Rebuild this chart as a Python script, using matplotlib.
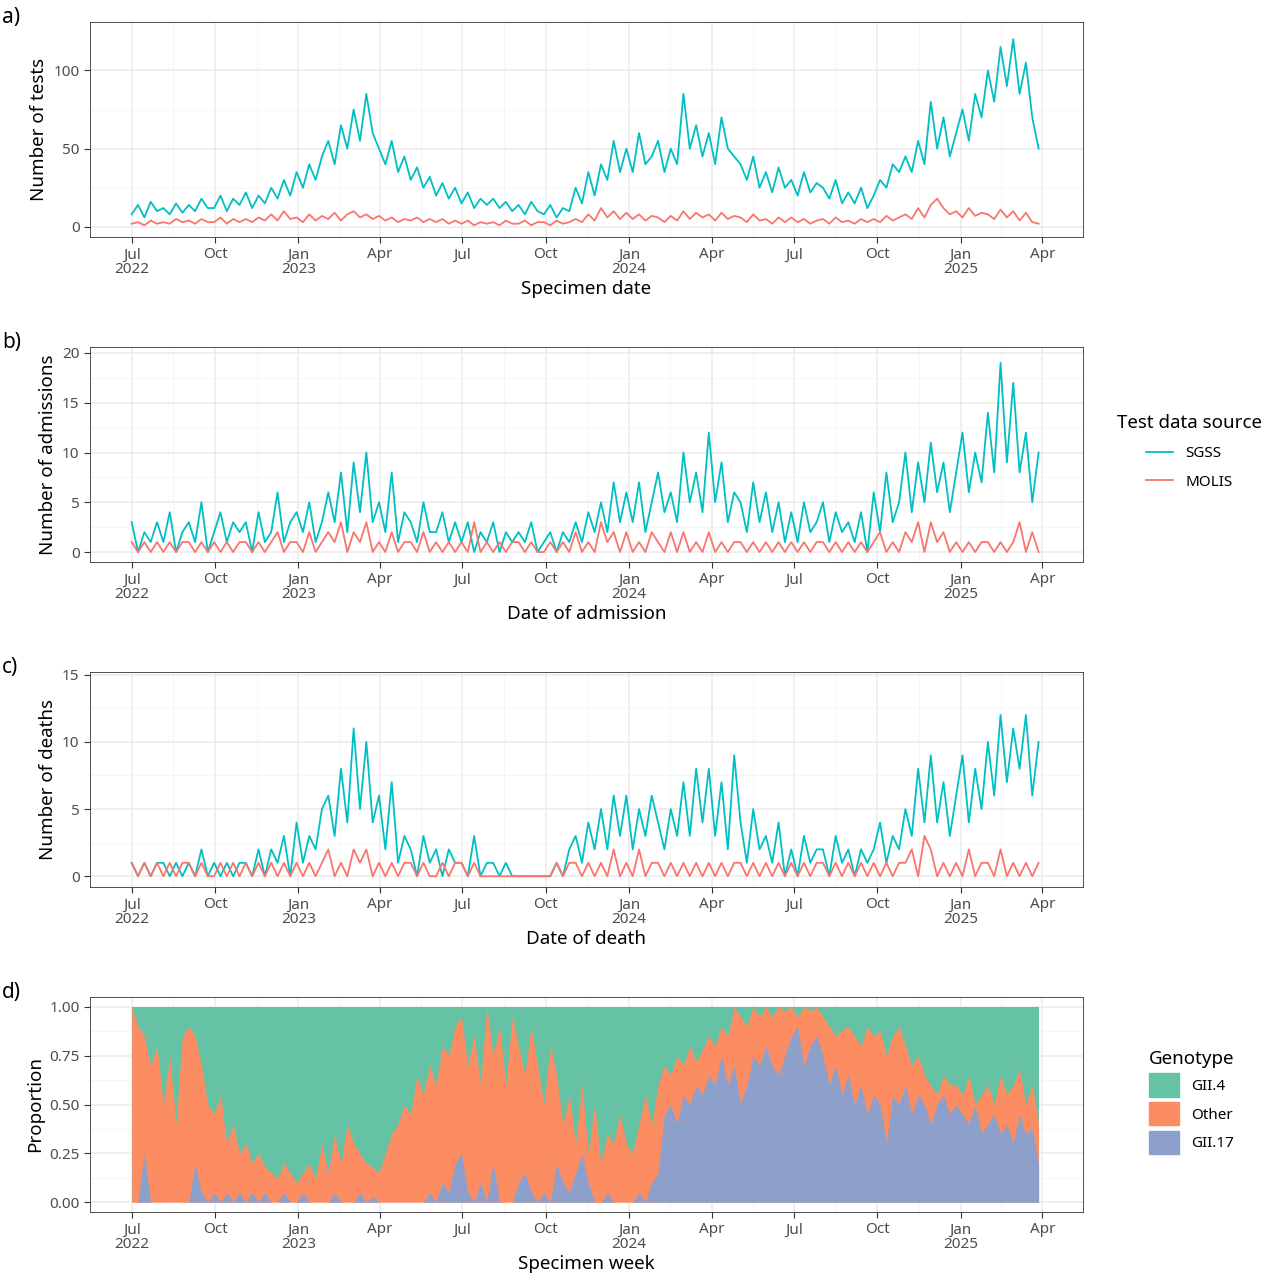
import numpy as np
import pandas as pd
import matplotlib.pyplot as plt
from matplotlib.lines import Line2D
from matplotlib.patches import Patch

plt.rcParams['font.family'] = ['Noto Sans', 'DejaVu Sans']

# weekly values, Jul 2022 - Mar 2025
tests_sgss = [8,14,6,16,10, 12,8,15,9, 14,10,18,12, 12,20,10,18,14, 22,12,20,15, 25,18,30,20,
              35,25,40,30,45, 55,40,65,50, 75,55,85,60, 50,40,55,35,45, 30,38,25,32, 20,28,18,25,
              15,22,12,18,14, 18,12,16,10, 14,8,16,10, 8,14,6,12,10, 25,15,35,20, 40,30,55,35,
              50,35,60,40,45, 55,35,50,40, 85,50,65,45, 60,40,70,50,45, 40,30,45,25, 35,22,38,25,
              30,20,35,22,28, 25,18,30,15, 22,15,25,12, 20,30,25,40,35, 45,35,55,40, 80,50,70,45,
              60,75,55,85,70, 100,80,115,90, 120,85,105,70,50]
tests_molis = [2,3,1,4,2, 3,2,5,3, 4,2,5,3, 3,6,2,5,3, 5,3,6,4, 8,4,10,5,
               6,3,8,4,7, 5,9,4,8, 10,6,8,5, 7,4,6,3,5, 4,6,3,5, 3,5,2,4,
               2,4,1,3,2, 3,1,4,2, 2,4,1,3, 3,1,4,2,3, 5,3,8,4, 12,6,10,5,
               9,5,8,4,7, 6,3,7,4, 10,5,9,6, 8,4,9,5,7, 6,3,8,4, 5,2,6,3,
               6,3,5,2,4, 5,2,6,3, 4,2,5,3, 5,3,7,4,6, 8,5,12,6, 14,18,12,8,
               10,6,12,7,9, 8,5,11,6, 10,4,9,3,2]
adm_sgss = [3,0,2,1,3, 1,4,0,2, 3,1,5,0, 2,4,1,3,2, 3,0,4,1, 2,6,1,3,
            4,2,5,1,3, 6,3,8,2, 9,4,10,3, 5,2,8,1,4, 3,1,5,2, 2,4,1,3,
            1,3,0,2,1, 3,0,2,1, 2,1,3,0, 1,2,0,2,1, 3,1,4,2, 5,2,7,3,
            6,3,7,2,5, 8,4,6,3, 10,5,8,4, 12,5,9,3,6, 5,2,7,3, 6,2,5,1,
            4,1,5,2,3, 5,1,4,2, 3,1,4,0, 6,2,8,3,5, 10,4,9,5, 11,6,9,4,
            8,12,6,10,7, 14,8,19,9, 17,8,12,5,10]
adm_molis = [1,0,1,0,1, 0,1,0,1, 1,0,1,0, 1,0,1,0,1, 1,0,1,0, 1,2,0,1,
             1,0,2,0,1, 2,1,3,0, 2,1,3,0, 1,0,2,0,1, 1,0,2,0, 1,0,1,0,
             1,0,3,0,1, 0,1,0,1, 1,0,1,0, 0,1,0,1,0, 2,0,1,0, 3,1,2,0,
             2,0,1,0,2, 1,0,2,0, 2,0,1,0, 2,0,1,0,1, 1,0,1,0, 1,0,1,0,
             1,0,1,0,1, 1,0,1,0, 1,0,1,0, 1,2,0,1,0, 2,1,3,0, 3,1,2,0,
             1,0,1,0,1, 1,0,1,0, 1,3,0,2,0]
death_sgss = [1,0,1,0,1, 1,0,1,0, 1,0,2,0, 1,0,1,0,1, 1,0,2,0, 2,1,3,0,
              4,1,3,2,5, 6,3,8,4, 11,5,10,4, 6,2,7,1,3, 2,0,3,1, 2,0,2,1,
              1,0,3,0,1, 1,0,1,0, 0,0,0,0, 0,0,1,0,2, 3,1,4,2, 5,2,6,3,
              6,2,5,3,6, 4,2,5,3, 7,3,8,4, 8,3,7,2,9, 4,1,5,2, 3,1,4,0,
              2,0,3,1,2, 2,0,3,1, 2,0,2,1, 2,4,1,3,2, 5,3,8,4, 9,4,7,3,
              6,9,4,8,5, 10,6,12,7, 11,8,12,6,10]
death_molis = [1,0,1,0,1, 0,1,0,1, 1,0,1,0, 0,1,0,1,0, 1,0,1,0, 1,0,1,0,
               1,0,1,0,1, 2,0,1,0, 2,1,2,0, 1,0,1,0,1, 1,0,1,0, 0,1,0,1,
               1,0,1,0,0, 0,0,0,0, 0,0,0,0, 0,0,1,0,1, 1,0,1,0, 1,0,2,0,
               1,0,2,0,1, 1,0,1,0, 1,0,1,0, 1,0,1,0,1, 1,0,1,0, 1,0,1,0,
               1,0,1,0,1, 1,0,1,0, 1,0,1,0, 1,0,1,0,1, 1,2,0,3, 2,0,1,0,
               1,0,2,0,1, 1,0,2,0, 1,0,1,0,1]
gii17 = [0,0,0.25,0,0, 0,0,0,0, 0,0.2,0.05,0, 0.05,0,0.05,0,0.05, 0,0.05,0,0.05, 0,0,0.05,0,
         0,0.05,0,0,0, 0,0.05,0,0, 0,0.05,0,0.03, 0,0,0,0,0, 0,0,0,0.05, 0,0.1,0.05,0.2,
         0.25,0.05,0,0.1,0, 0.2,0,0,0, 0.1,0.15,0.05,0, 0.05,0,0.2,0.1,0.05, 0.15,0.25,0.1,0, 0,0.05,0,0,
         0,0,0.05,0,0.1, 0.15,0.45,0.5,0.4, 0.55,0.5,0.6,0.55, 0.65,0.6,0.75,0.6,0.7, 0.5,0.6,0.75,0.7, 0.8,0.7,0.65,0.75,
         0.85,0.9,0.7,0.8,0.85, 0.75,0.6,0.7,0.55, 0.65,0.5,0.6,0.45, 0.55,0.5,0.3,0.55,0.5, 0.6,0.45,0.55,0.5, 0.4,0.5,0.55,0.45,
         0.5,0.45,0.4,0.5,0.35, 0.4,0.45,0.35,0.4, 0.3,0.45,0.35,0.38,0.2]
# GII.17 + Other (top of the orange band)
gii17_other = [1.0,0.9,0.85,0.7,0.8, 0.5,0.75,0.4,0.85, 0.9,0.85,0.7,0.5, 0.45,0.55,0.3,0.4,0.25, 0.3,0.2,0.25,0.18, 0.15,0.12,0.2,0.15,
               0.1,0.15,0.2,0.12,0.3, 0.15,0.35,0.2,0.4, 0.3,0.25,0.2,0.18, 0.15,0.25,0.35,0.4,0.5, 0.45,0.65,0.55,0.7, 0.6,0.8,0.75,0.9,
               0.95,0.7,0.85,0.6,1.0, 0.75,0.9,0.6,0.95, 0.8,0.65,0.9,0.7, 0.5,0.8,0.65,0.4,0.55, 0.3,0.6,0.25,0.5, 0.2,0.35,0.3,0.45,
               0.3,0.25,0.4,0.55,0.4, 0.6,0.7,0.65,0.75, 0.7,0.8,0.72,0.78, 0.85,0.8,0.9,0.85,1.0, 0.95,0.9,1.0,0.95, 1.0,0.95,1.0,0.98,
               1.0,0.95,1.0,0.98,1.0, 0.95,0.9,0.85,0.88, 0.9,0.85,0.8,0.9, 0.85,0.88,0.75,0.85,0.9, 0.8,0.7,0.75,0.65, 0.6,0.55,0.65,0.6,
               0.6,0.55,0.65,0.5,0.55, 0.6,0.5,0.65,0.55, 0.6,0.68,0.5,0.6,0.4]

SGSS, MOLIS = '#00BFC4', '#F8766D'
C_GII4, C_OTHER, C_GII17 = '#66C2A5', '#FC8D62', '#8DA0CB'

dates = pd.date_range('2022-07-01', periods=len(tests_sgss), freq='7D')
start, end = pd.Timestamp('2022-07-01'), pd.Timestamp('2025-03-31')
pad = pd.Timedelta(days=46)
ticks = pd.date_range('2022-07-01', '2025-04-01', freq='QS-JAN')
ticklabels = [d.strftime('%b') + ('\n' + str(d.year) if d.month == 1 or d == ticks[0] else '') for d in ticks]
minor = ticks[:-1] + (ticks[1:] - ticks[:-1]) / 2

fig = plt.figure(figsize=(12.7, 12.8), dpi=100)
W, H = 1270, 1280
tops = [22, 347, 672, 997]
axes = [fig.add_axes([90 / W, 1 - (t + 215) / H, (1083 - 90) / W, 215 / H]) for t in tops]

def style(ax, xlabel, ylabel, yticks, ylim, fmt='{:g}'):
    ax.set_xlim(start - pad, end + pad)
    ax.set_xticks(ticks)
    ax.set_xticklabels(ticklabels, fontsize=11, color='#4d4d4d', linespacing=0.95)
    ax.set_xticks(minor, minor=True)
    ax.set_yticks(yticks)
    ax.set_yticklabels([fmt.format(v) for v in yticks], fontsize=11, color='#4d4d4d')
    ymid = [(a + b) / 2 for a, b in zip(yticks[:-1], yticks[1:])]
    ax.set_yticks(ymid, minor=True)
    ax.set_ylim(*ylim)
    ax.grid(True, which='major', color='#ebebeb', lw=1.1)
    ax.grid(True, which='minor', color='#f4f4f4', lw=0.6)
    ax.set_axisbelow(True)
    ax.tick_params(which='major', length=4, color='#333333')
    ax.tick_params(which='minor', length=0)
    for s in ax.spines.values():
        s.set_color('#333333')
        s.set_linewidth(0.6)
    ax.set_xlabel(xlabel, fontsize=13.5, labelpad=2)
    ax.set_ylabel(ylabel, fontsize=13.5)

ax = axes[0]
ax.plot(dates, tests_sgss, color=SGSS, lw=1.3)
ax.plot(dates, tests_molis, color=MOLIS, lw=1.3)
style(ax, 'Specimen date', 'Number of tests', [0, 50, 100], (-6.5, 131))

ax = axes[1]
ax.plot(dates, adm_sgss, color=SGSS, lw=1.3)
ax.plot(dates, adm_molis, color=MOLIS, lw=1.3)
style(ax, 'Date of admission', 'Number of admissions', [0, 5, 10, 15, 20], (-1, 20.6))

ax = axes[2]
ax.plot(dates, death_sgss, color=SGSS, lw=1.3)
ax.plot(dates, death_molis, color=MOLIS, lw=1.3)
style(ax, 'Date of death', 'Number of deaths', [0, 5, 10, 15], (-0.8, 15.2))

ax = axes[3]
g17 = np.array(gii17)
top = np.maximum(np.array(gii17_other), g17)
ax.fill_between(dates, 0, 1, color=C_GII4, lw=0)
ax.fill_between(dates, 0, top, color=C_OTHER, lw=0)
ax.fill_between(dates, 0, g17, color=C_GII17, lw=0)
style(ax, 'Specimen week', 'Proportion', [0, 0.25, 0.5, 0.75, 1.0], (-0.05, 1.05), '{:.2f}')

for lab, t in zip(['a)', 'b)', 'c)', 'd)'], tops):
    fig.text(2 / W, 1 - (t + 6) / H, lab, fontsize=15, va='bottom')

h1 = [Line2D([], [], color=SGSS, lw=1.3), Line2D([], [], color=MOLIS, lw=1.3)]
fig.legend(h1, ['SGSS', 'MOLIS'], title='Test data source', loc='center left',
           bbox_to_anchor=(1103 / W, 1 - 452 / H), frameon=False, fontsize=11,
           title_fontsize=13.5, handlelength=1.8, labelspacing=0.9)
h2 = [Patch(color=C_GII4), Patch(color=C_OTHER), Patch(color=C_GII17)]
leg = fig.legend(h2, ['GII.4', 'Other', 'GII.17'], title='Genotype', loc='center left',
                 bbox_to_anchor=(1135 / W, 1 - 1102 / H), frameon=False, fontsize=11,
                 title_fontsize=13.5, handlelength=2.0, handleheight=2.0, labelspacing=0.35)
leg._legend_box.align = 'left'

fig.savefig('out.png', dpi=100)
